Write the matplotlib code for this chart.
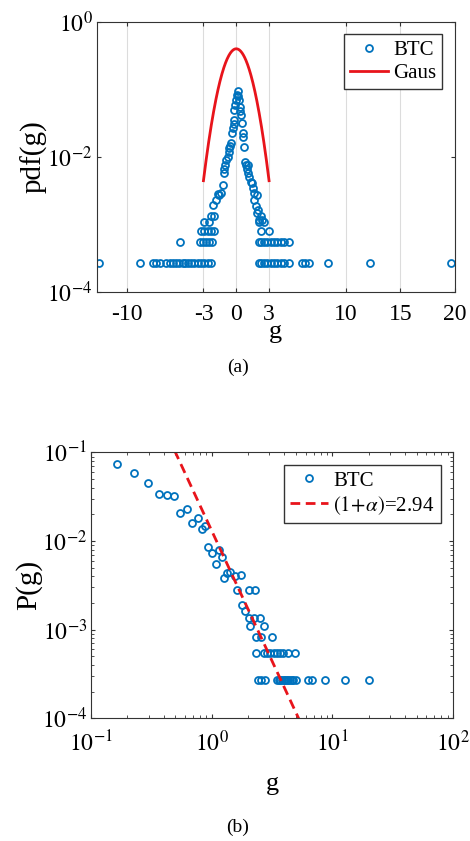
"""
BTC return distribution: pdf on semilog axes and tail on log-log axes
"""
import matplotlib.pyplot as plt
import numpy as np

plt.rcParams["font.family"] = ["Liberation Serif", "DejaVu Serif"]
plt.rcParams["mathtext.fontset"] = "stix"

BLUE = "#0072BD"
RED = "#E8141B"

# ---------------- panel (a) data: pdf(g) ----------------
# lowest histogram levels (pdf value of a level, g positions on it)
pdf_levels = [2.7e-4, 5.4e-4, 8.1e-4, 1.08e-3]
g_levels = [
    [-12.55, -8.82, -7.6, -7.3, -7.0, -6.4, -6.1, -5.8, -5.5, -5.2, -4.9, -4.7,
     -4.42, -4.12, -3.82, -3.52, -3.21, -2.91, -2.61, -2.3,
     2.09, 2.24, 2.55, 2.85, 3.15, 3.45, 3.76, 4.06, 4.36, 4.82,
     6.03, 6.33, 6.64, 8.39, 12.25, 19.67],
    [-5.12, -3.36, -3.06, -2.76, -2.45, -2.21,
     2.09, 2.3, 2.55, 2.85, 3.15, 3.45, 3.76, 4.06, 4.36, 4.82],
    [-3.21, -2.91, -2.61, -2.3, -2.0, 2.24, 3.0],
    [-2.91, -2.45, 2.09, 2.55],
]
# upper part of the distribution
g_top = [-2.3, -2.0, -2.15, -1.85, -1.7, -1.55, -1.39, -1.24, -1.15, -1.0, -1.08,
         -0.9, -0.79, -0.7, -0.64, -0.55, -0.49, -0.39, -0.27, -0.22, -0.18,
         -0.18, -0.12, -0.03, 0.03, 0.12, 0.2, 0.27, 0.33, 0.38, 0.42, 0.52,
         0.58, 0.64, 0.73, 0.79, 0.88, 0.95, 1.12, 1.03, 1.2, 1.33, 1.48, 1.64,
         1.94, 1.64, 1.79, 1.94, 2.09, 2.39, 2.0, 2.24, 1.55]
pdf_top = [1.35e-3, 1.35e-3, 1.95e-3, 2.31e-3, 2.83e-3, 2.7e-3, 2.96e-3, 3.85e-3,
           5.73e-3, 7.6e-3, 6.5e-3, 9.0e-3, 1.01e-2, 1.2e-2, 1.34e-2, 1.45e-2,
           1.59e-2, 2.24e-2, 2.66e-2, 3.1e-2, 3.53e-2, 4.97e-2, 5.9e-2,
           6.99e-2, 8.3e-2, 9.3e-2, 8.0e-2, 6.99e-2, 5.57e-2, 4.8e-2, 4.19e-2,
           3.15e-2, 2.24e-2, 2.0e-2, 1.42e-2, 8.5e-3, 7.6e-3, 6.6e-3, 7.6e-3,
           5.73e-3, 5.0e-3, 4.31e-3, 4.07e-3, 2.9e-3, 2.74e-3, 2.31e-3,
           1.84e-3, 1.47e-3, 1.17e-3, 1.17e-3, 1.62e-3, 1.35e-3, 3.4e-3]

# ---------------- panel (b) data: P(g) of |g| ----------------
g_b = [0.163, 0.227, 0.296, 0.362, 0.427, 0.49, 0.549, 0.624, 0.68, 0.762,
       0.822, 0.881, 0.933, 0.995, 1.157, 1.224, 1.079, 1.262, 1.346, 1.414,
       1.545, 1.73, 1.604, 2.03, 2.30, 1.79, 1.90, 2.03, 2.23, 2.53, 2.09,
       2.73, 2.34, 2.56, 3.15]
p_b = [0.0746, 0.0585, 0.0452, 0.0343, 0.0328, 0.032, 0.0209, 0.0232, 0.016,
       0.0184, 0.0135, 0.0149, 0.00859, 0.00736, 0.00789, 0.00664, 0.0055,
       0.00379, 0.00432, 0.0045, 0.00403, 0.00413, 0.0028, 0.0028, 0.0028,
       0.0019, 0.00164, 0.00135, 0.00135, 0.00135, 0.0011, 0.0011, 0.000815,
       0.000815, 0.000815]
g_b2 = [2.34, 2.69, 2.87, 3.05, 3.25, 3.47, 3.69, 3.88, 4.32, 4.9]
g_b1 = [2.40, 2.56, 2.78, 3.47, 3.60, 3.69, 3.80, 3.93, 4.05, 4.19, 4.30,
        4.46, 4.60, 4.74, 4.97, 6.31, 6.72, 8.65, 12.6, 20.0]
p_b2 = 5.4e-4
p_b1 = 2.7e-4
alpha_exp = 2.94
c_fit = 0.013

fig = plt.figure(figsize=(4.7, 8.41), dpi=100)

leg_kw = dict(loc="upper right", fontsize=15, fancybox=False,
              edgecolor="#333333", framealpha=1, handlelength=1.8,
              handletextpad=0.25, borderpad=0.3, labelspacing=0.15,
              borderaxespad=0.6)

# ---------------- (a) ----------------
ax1 = fig.add_axes([0.206, 0.653, 0.762, 0.321])
g_a = [g for row in g_levels for g in row] + g_top
pdf_a = [p for p, row in zip(pdf_levels, g_levels) for _ in row] + pdf_top
ax1.plot(g_a, pdf_a, "o", mfc="none", mec=BLUE, ms=5, mew=1.3, label="BTC")
gg = np.linspace(-3, 3, 200)
ax1.plot(gg, np.exp(-gg ** 2 / 2) / np.sqrt(2 * np.pi), "-", color=RED, lw=2,
         label="Gaus")
ax1.set_yscale("log")
ax1.set_xlim(-12.75, 19.85)
ax1.set_ylim(1e-4, 1)
ax1.set_xticks([-10, -3, 0, 3, 10, 15, 20])
ax1.set_xticklabels(["-10", "-3", "0", "3", "10", "15", "20"])
ax1.set_yticks([1e-4, 1e-2, 1])
ax1.set_yticklabels([r"$10^{-4}$", r"$10^{-2}$", r"$10^{0}$"])
ax1.minorticks_off()
ax1.grid(axis="x", color="#dcdcdc", lw=0.8)
ax1.set_xlabel("g", fontsize=19, labelpad=-3)
ax1.set_ylabel("pdf(g)", fontsize=21, labelpad=0)
ax1.legend(**leg_kw)

# ---------------- (b) ----------------
ax2 = fig.add_axes([0.194, 0.146, 0.770, 0.316])
gb = g_b + g_b2 + g_b1
pb = p_b + [p_b2] * len(g_b2) + [p_b1] * len(g_b1)
ax2.loglog(gb, pb, "o", mfc="none", mec=BLUE, ms=5, mew=1.3, label="BTC")
gx = np.logspace(np.log10(0.3), 1, 100)
ax2.loglog(gx, c_fit * gx ** (-alpha_exp), "--", color=RED, lw=2,
           dashes=(3.5, 2), label=r"$(1\!+\!\alpha)$=2.94")
ax2.set_xlim(0.1, 100)
ax2.set_ylim(1e-4, 1e-1)
ax2.set_xticks([0.1, 1, 10, 100])
ax2.set_xticklabels([r"$10^{-1}$", r"$10^{0}$", r"$10^{1}$", r"$10^{2}$"])
ax2.set_yticks([1e-4, 1e-3, 1e-2, 1e-1])
ax2.set_yticklabels([r"$10^{-4}$", r"$10^{-3}$", r"$10^{-2}$", r"$10^{-1}$"])
ax2.set_xlabel("g", fontsize=19, labelpad=12)
ax2.set_ylabel("P(g)", fontsize=21, labelpad=0)
ax2.legend(**leg_kw)

for ax in (ax1, ax2):
    ax.tick_params(which="both", direction="in", top=True, right=True,
                   labelsize=17, color="#333333")
    ax.tick_params(which="major", length=3)
    ax.tick_params(which="minor", length=2)
    ax.tick_params(axis="x", pad=9)
    ax.tick_params(axis="y", pad=3)
    for s in ax.spines.values():
        s.set_color("#333333")
        s.set_linewidth(0.8)

fig.text(238 / 470, 1 - 367 / 841, "(a)", ha="center", va="center", fontsize=14)
fig.text(238 / 470, 1 - 827 / 841, "(b)", ha="center", va="center", fontsize=14)

fig.savefig("out.png", dpi=100)
